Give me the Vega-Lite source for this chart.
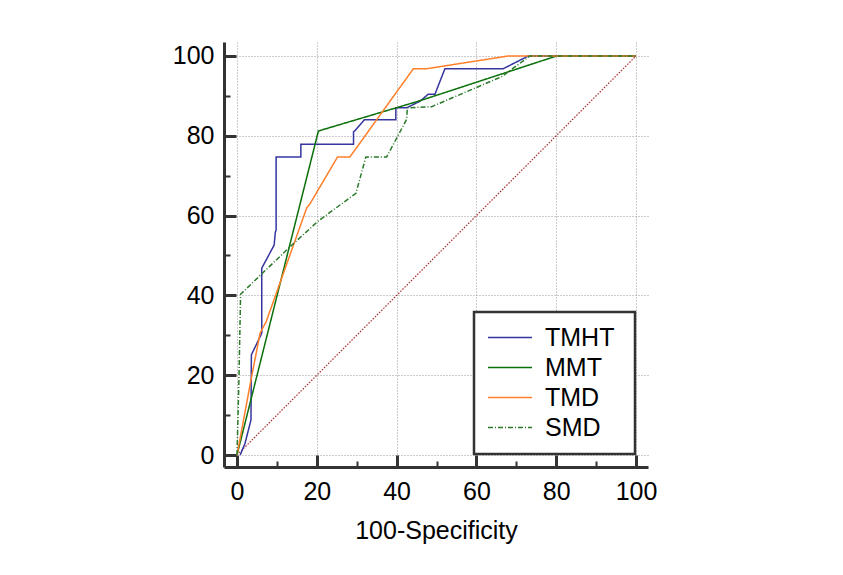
{
  "$schema": "https://vega.github.io/schema/vega-lite/v6.json",
  "autosize": "none",
  "width": 424,
  "height": 425,
  "padding": {"left": 224, "top": 42, "right": 195, "bottom": 108},
  "background": "white",
  "config": {
    "view": {"stroke": null},
    "font": "Liberation Sans",
    "legend": {"strokeWidth": 2.5}
  },
  "datasets": {
    "roc": [
      {"test": "TMHT", "i": 1, "x": 0.8, "y": 0},
      {"test": "TMHT", "i": 2, "x": 2, "y": 2.9},
      {"test": "TMHT", "i": 3, "x": 3.5, "y": 8.8},
      {"test": "TMHT", "i": 4, "x": 3.6, "y": 25.1},
      {"test": "TMHT", "i": 5, "x": 6.2, "y": 30.5},
      {"test": "TMHT", "i": 6, "x": 6.2, "y": 46.8},
      {"test": "TMHT", "i": 7, "x": 9.3, "y": 52.6},
      {"test": "TMHT", "i": 8, "x": 9.6, "y": 55.8},
      {"test": "TMHT", "i": 9, "x": 9.8, "y": 56.4},
      {"test": "TMHT", "i": 10, "x": 9.8, "y": 74.7},
      {"test": "TMHT", "i": 11, "x": 16, "y": 74.7},
      {"test": "TMHT", "i": 12, "x": 16, "y": 77.9},
      {"test": "TMHT", "i": 13, "x": 29.2, "y": 77.9},
      {"test": "TMHT", "i": 14, "x": 29.2, "y": 81},
      {"test": "TMHT", "i": 15, "x": 29.6, "y": 81.3},
      {"test": "TMHT", "i": 16, "x": 31.9, "y": 84},
      {"test": "TMHT", "i": 17, "x": 39.8, "y": 84},
      {"test": "TMHT", "i": 18, "x": 39.8, "y": 87},
      {"test": "TMHT", "i": 19, "x": 42.5, "y": 87},
      {"test": "TMHT", "i": 20, "x": 45.9, "y": 88.7},
      {"test": "TMHT", "i": 21, "x": 47.9, "y": 90.4},
      {"test": "TMHT", "i": 22, "x": 49.6, "y": 90.4},
      {"test": "TMHT", "i": 23, "x": 52.1, "y": 96.8},
      {"test": "TMHT", "i": 24, "x": 66.7, "y": 96.8},
      {"test": "TMHT", "i": 25, "x": 73, "y": 100},
      {"test": "TMHT", "i": 26, "x": 100, "y": 100},
      {"test": "MMT", "i": 1, "x": 0, "y": 0},
      {"test": "MMT", "i": 2, "x": 20.4, "y": 81.2},
      {"test": "MMT", "i": 3, "x": 45.9, "y": 88.8},
      {"test": "MMT", "i": 4, "x": 80.1, "y": 100},
      {"test": "MMT", "i": 5, "x": 100, "y": 100},
      {"test": "TMD", "i": 1, "x": 0, "y": 0},
      {"test": "TMD", "i": 2, "x": 3.5, "y": 18.8},
      {"test": "TMD", "i": 3, "x": 5.8, "y": 30.6},
      {"test": "TMD", "i": 4, "x": 7.3, "y": 33.4},
      {"test": "TMD", "i": 5, "x": 17.5, "y": 62},
      {"test": "TMD", "i": 6, "x": 18.2, "y": 62.8},
      {"test": "TMD", "i": 7, "x": 25.2, "y": 74.7},
      {"test": "TMD", "i": 8, "x": 28.3, "y": 74.7},
      {"test": "TMD", "i": 9, "x": 44.2, "y": 96.8},
      {"test": "TMD", "i": 10, "x": 47.5, "y": 96.8},
      {"test": "TMD", "i": 11, "x": 68, "y": 100},
      {"test": "TMD", "i": 12, "x": 100, "y": 100},
      {"test": "SMD", "i": 1, "x": 0, "y": 0},
      {"test": "SMD", "i": 2, "x": 0.5, "y": 19.6},
      {"test": "SMD", "i": 3, "x": 0.9, "y": 40.3},
      {"test": "SMD", "i": 4, "x": 13.3, "y": 52.2},
      {"test": "SMD", "i": 5, "x": 20.2, "y": 58.5},
      {"test": "SMD", "i": 6, "x": 27.5, "y": 63.9},
      {"test": "SMD", "i": 7, "x": 29.8, "y": 65.6},
      {"test": "SMD", "i": 8, "x": 32.3, "y": 74.7},
      {"test": "SMD", "i": 9, "x": 37.5, "y": 74.7},
      {"test": "SMD", "i": 10, "x": 39.8, "y": 79},
      {"test": "SMD", "i": 11, "x": 42.5, "y": 84.1},
      {"test": "SMD", "i": 12, "x": 42.7, "y": 87},
      {"test": "SMD", "i": 13, "x": 48.8, "y": 87.3},
      {"test": "SMD", "i": 14, "x": 66.3, "y": 94.8},
      {"test": "SMD", "i": 15, "x": 73.4, "y": 100},
      {"test": "SMD", "i": 16, "x": 100, "y": 100}
    ],
    "diag": [
      {"x": 0, "y": 0},
      {"x": 100, "y": 100}
    ]
  },
  "layer": [
    {
      "data": {"name": "diag"},
      "mark": {"type": "line", "color": "#a52a2a", "strokeWidth": 1.2, "strokeDash": [1.5, 1.5]},
      "encoding": {
        "x": {
          "field": "x", "type": "quantitative",
          "scale": {"domain": [-3.26, 103], "nice": false, "zero": false},
          "axis": {
            "title": "100-Specificity",
            "titleFont": "Liberation Sans", "titleFontSize": 25, "titleFontWeight": "normal", "titleColor": "#000",
            "titlePadding": 8,
            "values": [0,5,10,15,20,25,30,35,40,45,50,55,60,65,70,75,80,85,90,95,100],
            "labelExpr": "datum.value % 20 === 0 ? datum.label : ''",
            "labelFontSize": 25, "labelColor": "#000", "labelFlush": false, "labelOverlap": false,
            "labelPadding": 24,
            "domainColor": "#333", "domainWidth": 3,
            "tickColor": "#333",
            "tickSize": {"condition": {"test": "datum.value % 20 === 0", "value": -12}, "value": -6},
            "tickWidth": {"condition": {"test": "datum.value % 20 === 0", "value": 3}, "value": 2},
            "grid": true,
            "gridColor": "#999", "gridDash": [1, 2], "gridWidth": 1,
            "gridOpacity": {"condition": {"test": "datum.value % 20 === 0", "value": 1}, "value": 0}
          }
        },
        "y": {
          "field": "y", "type": "quantitative",
          "scale": {"domain": [-3.0, 103.5], "nice": false, "zero": false},
          "axis": {
            "title": null,
            "values": [0,5,10,15,20,25,30,35,40,45,50,55,60,65,70,75,80,85,90,95,100],
            "labelExpr": "datum.value % 20 === 0 ? datum.label : ''",
            "labelFontSize": 25, "labelColor": "#000", "labelFlush": false, "labelOverlap": false,
            "labelPadding": 22,
            "domainColor": "#333", "domainWidth": 3,
            "tickColor": "#333",
            "tickSize": {"condition": {"test": "datum.value % 20 === 0", "value": -12}, "value": -6},
            "tickWidth": {"condition": {"test": "datum.value % 20 === 0", "value": 3}, "value": 2},
            "grid": true,
            "gridColor": "#999", "gridDash": [1, 2], "gridWidth": 1,
            "gridOpacity": {"condition": {"test": "datum.value % 20 === 0", "value": 1}, "value": 0}
          }
        }
      }
    },
    {
      "data": {"name": "roc"},
      "mark": {"type": "line", "strokeWidth": 1.5},
      "encoding": {
        "x": {"field": "x", "type": "quantitative"},
        "y": {"field": "y", "type": "quantitative"},
        "order": {"field": "i", "type": "quantitative"},
        "color": {
          "field": "test", "type": "nominal",
          "scale": {"domain": ["TMHT", "MMT", "TMD", "SMD"], "range": ["#3535a0", "#0a700a", "#ff7f2a", "#2a7a2a"]},
          "legend": {
            "title": null, "orient": "none", "legendX": 250, "legendY": 270,
            "labelFontSize": 25, "labelColor": "#000", "labelFont": "Liberation Sans",
            "labelExpr": "datum.label + '\u00a0\u200b'",
            "symbolType": "stroke", "symbolSize": 1936, "symbolStrokeWidth": 1.5,
            "clipHeight": 25,
            "labelOffset": 12, "padding": 13, "rowPadding": 4,
            "strokeColor": "#333", "fillColor": "white"
          }
        },
        "strokeDash": {
          "field": "test", "type": "nominal",
          "scale": {"domain": ["TMHT", "MMT", "TMD", "SMD"], "range": [[1, 0], [1, 0], [1, 0], [5, 2, 1, 2]]},
          "legend": null
        }
      }
    }
  ]
}
